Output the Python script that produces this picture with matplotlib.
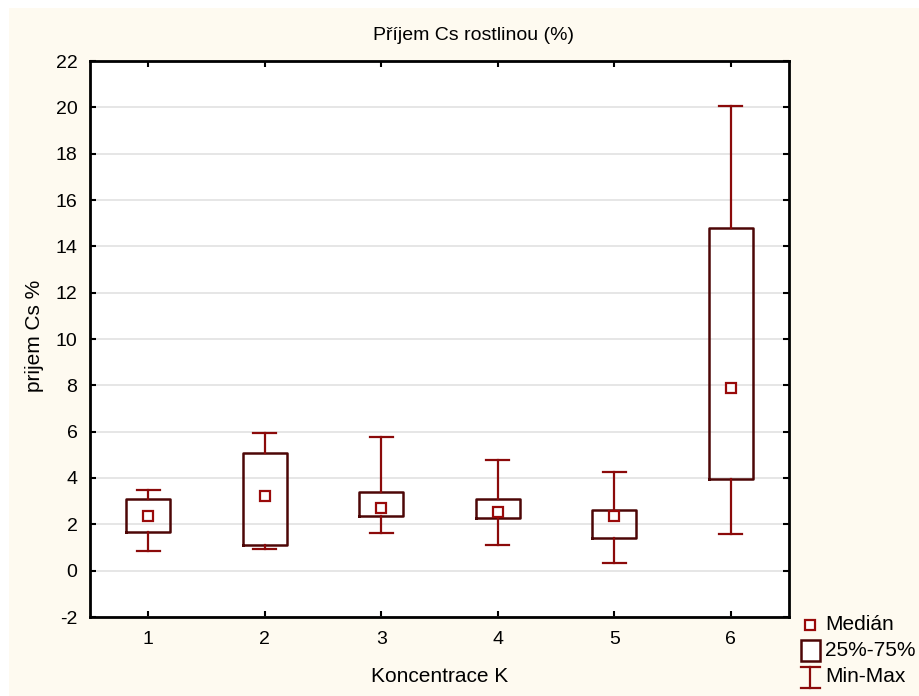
import matplotlib
matplotlib.use("Agg")
import matplotlib.pyplot as plt
from matplotlib.patches import Rectangle

plt.rcParams['font.family'] = ['Liberation Sans', 'DejaVu Sans']

categories = ["1", "2", "3", "4", "5", "6"]
mins    = [0.83, 0.95, 1.64, 1.09, 0.33, 1.60]
q1s     = [1.65, 1.09, 2.34, 2.27, 1.42, 3.97]
medians = [2.36, 3.21, 2.69, 2.52, 2.36, 7.89]
q3s     = [3.10, 5.06, 3.40, 3.08, 2.62, 14.80]
maxs    = [3.50, 5.94, 5.78, 4.79, 4.27, 20.07]
yticks  = list(range(-2, 23, 2))

title = "Příjem Cs rostlinou (%)"
xlabel = "Koncentrace K"
ylabel = "prijem Cs %"
legend_labels = ["Medián", "25%-75%", "Min-Max"]

cream = "#fefaf0"
box_col = "#4d0606"
whisk_col = "#8b0a0a"
med_col = "#990a0a"

fig = plt.figure(figsize=(9.2, 6.96), dpi=100)
fig.patch.set_facecolor("white")
fig.patches.append(Rectangle((9/920, 0), 1 - 9/920, 1 - 8/696, transform=fig.transFigure,
                             facecolor=cream, edgecolor="none", zorder=-10))

ax = fig.add_axes([90/920, (696-617)/696, (789-90)/920, (617-61)/696])
ax.set_facecolor("white")

positions = list(range(1, len(categories) + 1))
stats = []
for lab, lo, a, m, b, hi in zip(categories, mins, q1s, medians, q3s, maxs):
    stats.append(dict(label=lab, whislo=lo, q1=a, med=m, q3=b, whishi=hi, fliers=[]))

ax.bxp(stats, positions=positions, widths=0.38, capwidths=0.2, showfliers=False,
       boxprops=dict(color=box_col, linewidth=1.8),
       whiskerprops=dict(color=whisk_col, linewidth=1.6),
       capprops=dict(color=whisk_col, linewidth=1.6),
       medianprops=dict(visible=False), manage_ticks=False, zorder=3)
ax.plot(positions, medians, linestyle="none", marker="s", markersize=6.5,
        markerfacecolor="white", markeredgecolor=med_col, markeredgewidth=1.6, zorder=4)

ax.set_xlim(0.5, 6.5)
ax.set_ylim(-2, 22)
ax.set_xticks(positions)
ax.set_xticklabels(categories)
ax.set_yticks(yticks)
ax.set_yticklabels([str(t) for t in yticks])
ax.yaxis.grid(True, color="#e2e2e2", linewidth=1.2, zorder=0)
ax.set_axisbelow(True)
ax.tick_params(direction="in", length=4, width=1.5, labelsize=14,
               top=True, right=True, colors="black")
ax.tick_params(axis="y", pad=9)
ax.tick_params(axis="x", pad=10)
for s in ax.spines.values():
    s.set_linewidth(2)
    s.set_color("black")

fig.text(474/920, 1 - 35/696, title, ha="center", va="center", fontsize=14)
fig.text(440/920, 1 - 677/696, xlabel, ha="center", va="center", fontsize=15)
fig.text(35/920, 1 - 336/696, ylabel, ha="center", va="center", rotation=90, fontsize=15)

lax = fig.add_axes([0, 0, 1, 1], facecolor="none")
lax.set_xlim(0, 920)
lax.set_ylim(696, 0)
lax.axis("off")
lax.plot([810], [625], marker="s", markersize=6.5, markerfacecolor="white",
         markeredgecolor=med_col, markeredgewidth=1.6)
lax.add_patch(Rectangle((801, 640), 19, 21, facecolor="white", edgecolor=box_col, linewidth=1.8))
lax.plot([810, 810], [667, 688], color=whisk_col, linewidth=1.6)
lax.plot([801, 820], [667, 667], color=whisk_col, linewidth=1.6)
lax.plot([801, 820], [688, 688], color=whisk_col, linewidth=1.6)
for yy, lab in zip([625, 651, 677], legend_labels):
    lax.text(825, yy, lab, ha="left", va="center", fontsize=15)

fig.savefig("out.png", dpi=100, facecolor=fig.get_facecolor())
